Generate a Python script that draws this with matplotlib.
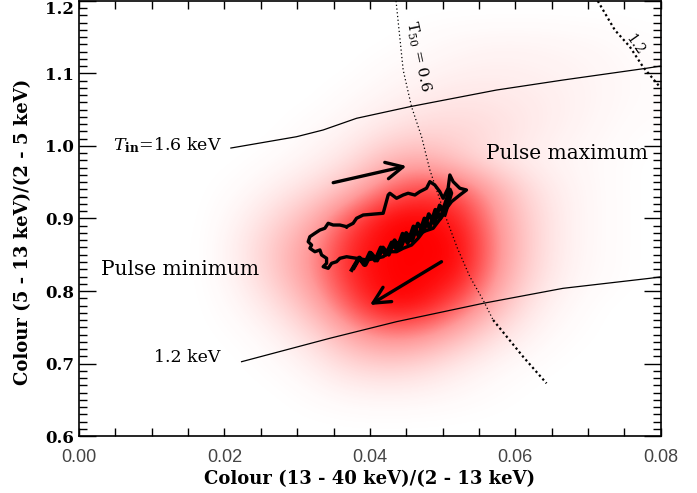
import numpy as np
import matplotlib
matplotlib.use("Agg")
import matplotlib.pyplot as plt
from matplotlib.colors import LinearSegmentedColormap
from matplotlib.ticker import MultipleLocator

plt.rcParams["font.family"] = "DejaVu Serif"
plt.rcParams["mathtext.fontset"] = "dejavuserif"

# ── data ─────────────────────────────────────────────────────────────────────

# density of the red point cloud (0 = empty, 1 = solid red), rows from top
CLOUD_X = [0.0175, 0.0225, 0.0275, 0.0325, 0.0375, 0.0425, 0.0475,
           0.0525, 0.0575, 0.0625, 0.0675, 0.0725, 0.0775]
CLOUD_Y = [1.18, 1.14, 1.10, 1.06, 1.02, 0.98, 0.94, 0.90,
           0.86, 0.82, 0.78, 0.74, 0.70, 0.66, 0.62]
CLOUD_D = [
    [0, 0, 0, 0, 0, 0, 0, 0, 0, 0, 0, 0, 0],
    [0, 0, 0, 0, 0, 0, 0.02, 0.04, 0.05, 0.05, 0.04, 0.03, 0.01],
    [0, 0, 0, 0, 0, 0.03, 0.05, 0.07, 0.08, 0.07, 0.06, 0.04, 0.02],
    [0, 0, 0, 0, 0.03, 0.06, 0.10, 0.13, 0.12, 0.10, 0.07, 0.04, 0.02],
    [0, 0, 0, 0.03, 0.06, 0.14, 0.20, 0.20, 0.16, 0.10, 0.06, 0.03, 0.01],
    [0, 0, 0.02, 0.06, 0.15, 0.35, 0.40, 0.25, 0.12, 0.07, 0.04, 0.02, 0],
    [0, 0.02, 0.08, 0.18, 0.35, 0.65, 0.80, 0.70, 0.40, 0.15, 0.06, 0.02, 0],
    [0, 0.06, 0.20, 0.40, 0.75, 1.00, 1.00, 0.90, 0.50, 0.20, 0.06, 0.02, 0],
    [0, 0.10, 0.30, 0.55, 0.90, 1.00, 1.00, 1.00, 0.55, 0.20, 0.06, 0.02, 0],
    [0, 0.08, 0.28, 0.55, 0.90, 1.00, 1.00, 0.95, 0.50, 0.18, 0.05, 0.02, 0],
    [0, 0.04, 0.16, 0.40, 0.75, 1.00, 0.95, 0.70, 0.35, 0.10, 0.03, 0, 0],
    [0, 0.01, 0.06, 0.20, 0.45, 0.60, 0.55, 0.35, 0.15, 0.05, 0.01, 0, 0],
    [0, 0, 0.02, 0.08, 0.20, 0.25, 0.20, 0.10, 0.04, 0.01, 0, 0, 0],
    [0, 0, 0, 0.02, 0.05, 0.06, 0.05, 0.03, 0.01, 0, 0, 0, 0],
    [0, 0, 0, 0, 0, 0, 0, 0, 0, 0, 0, 0, 0],
]

# black colour track: outer loop
TRACK_X = [0.03680, 0.03770, 0.03817, 0.03908, 0.04183, 0.04252, 0.04275,
           0.04367, 0.04458, 0.04526, 0.04619, 0.04687, 0.04779, 0.04825,
           0.04893, 0.04962, 0.05008, 0.05076, 0.05100, 0.05145, 0.05237,
           0.05329, 0.05237, 0.05123, 0.05054, 0.05008, 0.04939, 0.04870,
           0.04733, 0.04664, 0.04573, 0.04458, 0.04367, 0.04275, 0.04183,
           0.04092, 0.03955, 0.03817, 0.03680, 0.03588, 0.03542, 0.03474,
           0.03427, 0.03358, 0.03405, 0.03405, 0.03336, 0.03313, 0.03244,
           0.03175, 0.03199, 0.03152, 0.03175, 0.03244, 0.03313, 0.03381,
           0.03427, 0.03496, 0.03588, 0.03680]
TRACK_Y = [0.8887, 0.8934, 0.9003, 0.9048, 0.9072, 0.9324, 0.9348,
           0.9279, 0.9324, 0.9348, 0.9324, 0.9370, 0.9417, 0.9508,
           0.9462, 0.9370, 0.9279, 0.9417, 0.9600, 0.9508, 0.9417,
           0.9393, 0.9324, 0.9232, 0.9141, 0.9048, 0.8956, 0.8865,
           0.8818, 0.8727, 0.8634, 0.8589, 0.8542, 0.8542, 0.8473,
           0.8451, 0.8428, 0.8451, 0.8473, 0.8451, 0.8404, 0.8382,
           0.8313, 0.8335, 0.8382, 0.8451, 0.8497, 0.8566, 0.8542,
           0.8589, 0.8634, 0.8680, 0.8749, 0.8796, 0.8841, 0.8865,
           0.8934, 0.8910, 0.8910, 0.8887]
# black colour track: squiggles along the dense band (up, then back down)
BAND_X = [0.0375, 0.0385, 0.0392, 0.0400, 0.0407, 0.0415, 0.0422, 0.0430,
          0.0437, 0.0445, 0.0452, 0.0460, 0.0467, 0.0475, 0.0482, 0.0490,
          0.0497, 0.0505, 0.0510,
          0.0512, 0.0503, 0.0496, 0.0489, 0.0481, 0.0474, 0.0466, 0.0458,
          0.0450, 0.0442, 0.0434, 0.0426, 0.0418, 0.0410, 0.0402, 0.0394,
          0.0386, 0.0378]
BAND_Y = [0.829, 0.846, 0.836, 0.853, 0.842, 0.860, 0.850, 0.867,
          0.857, 0.879, 0.866, 0.889, 0.876, 0.900, 0.887, 0.912,
          0.900, 0.925, 0.940,
          0.935, 0.905, 0.918, 0.893, 0.906, 0.882, 0.893, 0.869,
          0.880, 0.858, 0.870, 0.850, 0.860, 0.842, 0.852, 0.836,
          0.846, 0.832]

# disc temperature lines
TIN16_X = [0.02089, 0.02992, 0.03358, 0.03817, 0.0455, 0.05742, 0.06657, 0.07803, 0.08]
TIN16_Y = [0.9972, 1.0128, 1.0221, 1.0382, 1.0542, 1.0772, 1.0910, 1.1072, 1.1103]
TIN12_X = [0.02236, 0.0345, 0.04367, 0.05557, 0.06657, 0.07849, 0.08]
TIN12_Y = [0.7025, 0.7348, 0.7577, 0.7830, 0.8037, 0.8175, 0.8195]

# T50 dotted lines
T06_X = [0.0436, 0.04458, 0.04573, 0.04711, 0.04825, 0.0505, 0.052, 0.05375, 0.05557, 0.05695]
T06_Y = [1.2, 1.1048, 1.0542, 1.0128, 0.9669, 0.90, 0.86, 0.8197, 0.7876, 0.76]
T06B_X = [0.05695, 0.06107, 0.06429]
T06B_Y = [0.76, 0.7094, 0.6727]
T12_X = [0.07134, 0.07368, 0.07574, 0.07757, 0.08]
T12_Y = [1.2, 1.16, 1.137, 1.109, 1.08]

# arrows (tail, tip)
ARROW_UP = [(0.03496, 0.9494), (0.04504, 0.9724)]
ARROW_DOWN = [(0.04985, 0.8404), (0.0400, 0.7807)]

# ── figure ───────────────────────────────────────────────────────────────────

fig = plt.figure(figsize=(6.97, 4.93), dpi=100)
ax = fig.add_axes([0.1133, 0.1156, 0.8347, 0.8824])

reds = LinearSegmentedColormap.from_list("wr", ["#ffffff", "#ff9a9a", "#ff0000"])
dx = (CLOUD_X[1] - CLOUD_X[0]) / 2
dy = (CLOUD_Y[0] - CLOUD_Y[1]) / 2
ax.imshow(np.array(CLOUD_D), cmap=reds, vmin=0, vmax=1,
          extent=[CLOUD_X[0] - dx, CLOUD_X[-1] + dx, CLOUD_Y[-1] - dy, CLOUD_Y[0] + dy],
          interpolation="bicubic", aspect="auto", zorder=1)

ax.plot(TIN16_X, TIN16_Y, color="black", lw=0.9, zorder=3)
ax.plot(TIN12_X, TIN12_Y, color="black", lw=0.9, zorder=3)
ax.plot(T06_X, T06_Y, color="black", lw=0.9, ls=(0, (1, 2)), zorder=3)
ax.plot(T06B_X, T06B_Y, color="black", lw=1.6, ls=(0, (1, 1.3)), zorder=3)
ax.plot(T12_X, T12_Y, color="black", lw=1.6, ls=(0, (1, 1.3)), zorder=3)

ax.plot(TRACK_X, TRACK_Y, color="black", lw=2.4, zorder=4)
ax.plot(BAND_X, BAND_Y, color="black", lw=2.8, zorder=4)

for tail, tip in (ARROW_UP, ARROW_DOWN):
    ax.annotate("", xy=tip, xytext=tail, zorder=5,
                arrowprops=dict(arrowstyle="->,head_length=1.2,head_width=0.6",
                                lw=2.4, color="black", shrinkA=0, shrinkB=0))

ax.text(0.01966, 1.0014, r"$T_{\mathbf{in}}$=1.6 keV", ha="right", va="center", fontsize=12.5)
ax.text(0.0195, 0.7076, "1.2 keV", ha="right", va="center", fontsize=12.5)
ax.text(0.0560, 0.990, "Pulse maximum", ha="left", va="center", fontsize=14.5)
ax.text(0.0030, 0.829, "Pulse minimum", ha="left", va="center", fontsize=14.5)
ax.text(0.0466, 1.123, r"$\mathrm{T}_{50}$ = 0.6", ha="center", va="center", rotation=-78, fontsize=11)
ax.text(0.0765, 1.140, "1.2", ha="center", va="center", rotation=-55, fontsize=10)

ax.set_xlim(0, 0.08)
ax.set_ylim(0.6, 1.2)
ax.xaxis.set_major_locator(MultipleLocator(0.02))
ax.xaxis.set_minor_locator(MultipleLocator(0.005))
ax.yaxis.set_major_locator(MultipleLocator(0.1))
ax.yaxis.set_minor_locator(MultipleLocator(0.01))
ax.xaxis.set_major_formatter(lambda v, p: f"{v:.2f}")
ax.yaxis.set_major_formatter(lambda v, p: f"{v:.1f}")

ax.tick_params(which="both", direction="in", top=True, right=True, width=1.0)
ax.tick_params(axis="x", which="both", length=6, pad=9)
ax.tick_params(axis="y", which="major", length=12)
ax.tick_params(axis="y", which="minor", length=6)
for sp in ax.spines.values():
    sp.set_linewidth(1.2)

ax.set_xlabel("Colour (13 - 40 keV)/(2 - 13 keV)", fontsize=13, fontweight="bold", labelpad=3)
ax.set_ylabel("Colour (5 - 13 keV)/(2 - 5 keV)", fontsize=13, fontweight="bold")
ax.yaxis.set_label_coords(-0.081, 0.47)

fig.canvas.draw()
for t in ax.xaxis.get_major_ticks():
    t.label1.set_family("Liberation Sans")
    t.label1.set_color("#444444")
    t.label1.set_fontsize(13)
for t in ax.yaxis.get_major_ticks():
    t.label1.set_fontweight("bold")
    t.label1.set_fontsize(12)
    if abs(t.get_loc() - 1.2) < 1e-6:
        t.label1.set_verticalalignment("top")

fig.savefig("out.png", dpi=100)
